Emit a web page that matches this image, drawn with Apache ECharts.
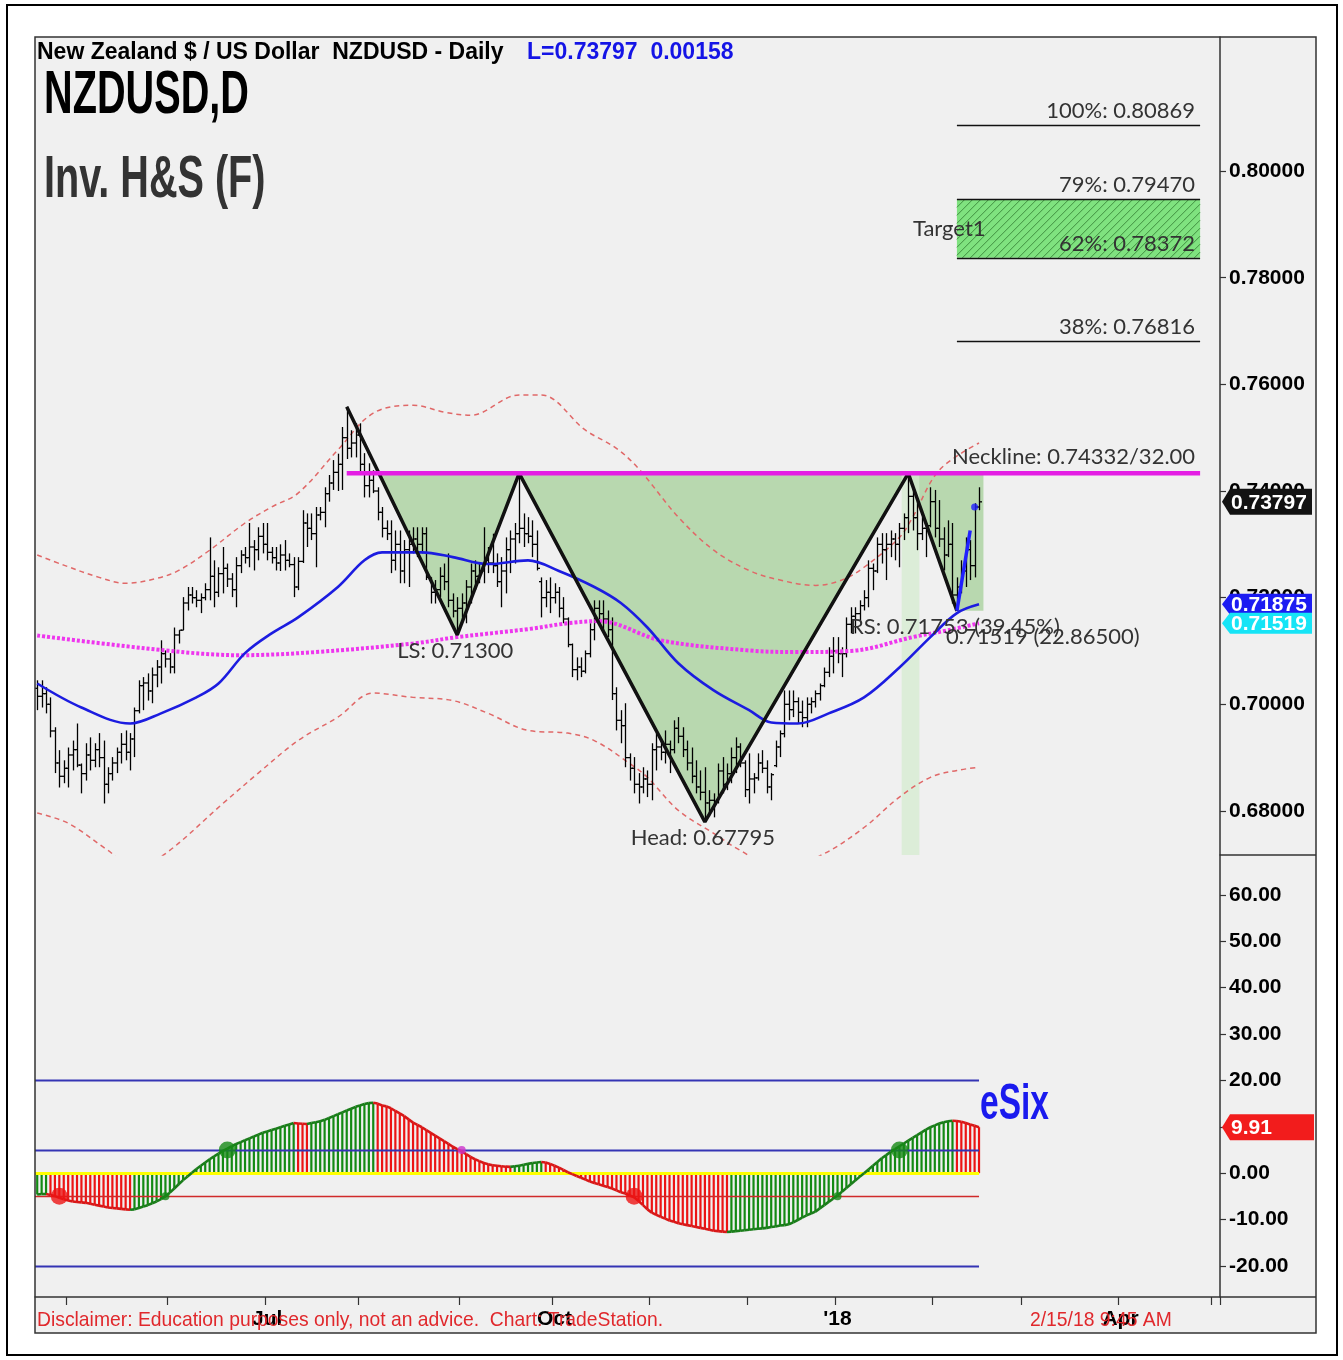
<!DOCTYPE html>
<html>
<head>
<meta charset="utf-8">
<title>NZDUSD Daily - Inv. H&amp;S</title>
<script src="https://cdn.jsdelivr.net/npm/echarts@6.0.0/dist/echarts.min.js"></script>
<style>
  html, body { margin: 0; padding: 0; background: #fff; }
  #chart { width: 1343px; height: 1360px; }
</style>
</head>
<body>
<div id="chart"></div>
<script>
// ---- calendar: weekdays, Christmas / New Year skipped ----
const firstDay = '2017-04-20';
const axisLastDay = '2018-05-02';
const holidays = ['2017-12-25', '2018-01-01'];

// ---- daily bars [open, high, low, close], 2017-04-20 .. 2018-02-15 ----
const bars = [
  [.7030,.7045,.6989,.7015],[.7015,.7045,.6994,.7020],[.7020,.7032,.6983,.7000],[.7000,.7013,.6938,.6950],[.6950,.6957,.6871,.6890],
  [.6890,.6914,.6844,.6865],[.6865,.6895,.6852,.6880],[.6880,.6919,.6844,.6905],[.6905,.6932,.6876,.6915],[.6915,.6964,.6882,.6886],
  [.6886,.6889,.6833,.6870],[.6870,.6927,.6857,.6905],[.6905,.6938,.6876,.6895],[.6895,.6927,.6882,.6915],[.6915,.6946,.6882,.6900],
  [.6900,.6932,.6814,.6850],[.6850,.6882,.6833,.6870],[.6870,.6901,.6857,.6890],[.6890,.6919,.6871,.6910],[.6910,.6946,.6889,.6925],
  [.6925,.6951,.6895,.6910],[.6910,.6946,.6876,.6935],[.6935,.6994,.6901,.6988],[.6988,.7045,.6983,.7035],[.7035,.7051,.6989,.7040],
  [.7040,.7058,.7007,.7025],[.7025,.7069,.7002,.7055],[.7055,.7083,.7032,.7070],[.7070,.7120,.7039,.7095],[.7095,.7101,.7069,.7085],
  [.7085,.7096,.7058,.7070],[.7070,.7144,.7058,.7130],[.7130,.7139,.7114,.7139],[.7139,.7201,.7139,.7190],[.7190,.7220,.7176,.7205],
  [.7205,.7220,.7189,.7200],[.7200,.7214,.7182,.7195],[.7195,.7208,.7171,.7200],[.7200,.7227,.7195,.7215],[.7215,.7313,.7195,.7240],
  [.7240,.7270,.7182,.7210],[.7210,.7257,.7201,.7245],[.7245,.7295,.7208,.7255],[.7255,.7264,.7220,.7235],[.7235,.7246,.7201,.7215],
  [.7215,.7276,.7182,.7260],[.7260,.7289,.7246,.7280],[.7280,.7295,.7264,.7275],[.7275,.7340,.7257,.7295],[.7295,.7308,.7251,.7290],
  [.7290,.7332,.7270,.7315],[.7315,.7340,.7283,.7300],[.7300,.7340,.7270,.7285],[.7285,.7295,.7264,.7275],[.7275,.7295,.7251,.7265],
  [.7265,.7300,.7250,.7280],[.7280,.7308,.7251,.7270],[.7270,.7283,.7257,.7262],[.7262,.7276,.7201,.7220],[.7220,.7276,.7214,.7268],
  [.7268,.7364,.7265,.7340],[.7340,.7358,.7295,.7330],[.7330,.7358,.7308,.7320],[.7320,.7370,.7257,.7355],[.7355,.7370,.7345,.7360],
  [.7360,.7407,.7332,.7395],[.7395,.7430,.7380,.7415],[.7415,.7458,.7402,.7435],[.7435,.7470,.7400,.7450],[.7450,.7520,.7402,.7500],
  [.7500,.7558,.7460,.7480],[.7480,.7514,.7463,.7490],[.7490,.7527,.7463,.7505],[.7505,.7527,.7433,.7450],[.7450,.7471,.7388,.7410],
  [.7410,.7452,.7388,.7420],[.7420,.7439,.7396,.7400],[.7400,.7407,.7345,.7360],[.7360,.7370,.7313,.7330],[.7330,.7345,.7308,.7320],
  [.7320,.7345,.7246,.7270],[.7270,.7326,.7251,.7300],[.7300,.7326,.7227,.7250],[.7250,.7308,.7227,.7290],[.7290,.7326,.7220,.7300],
  [.7300,.7332,.7283,.7310],[.7310,.7332,.7276,.7300],[.7300,.7332,.7283,.7320],[.7320,.7332,.7233,.7238],[.7238,.7238,.7189,.7210],
  [.7210,.7233,.7189,.7215],[.7215,.7257,.7201,.7240],[.7240,.7264,.7214,.7230],[.7230,.7283,.7182,.7195],[.7195,.7208,.7163,.7175],
  [.7175,.7201,.7130,.7180],[.7180,.7208,.7158,.7190],[.7190,.7233,.7152,.7220],[.7220,.7264,.7189,.7250],[.7250,.7270,.7214,.7240],
  [.7240,.7264,.7227,.7250],[.7250,.7332,.7227,.7270],[.7270,.7295,.7246,.7265],[.7265,.7320,.7246,.7260],[.7260,.7283,.7220,.7230],
  [.7230,.7276,.7182,.7250],[.7250,.7313,.7208,.7290],[.7290,.7326,.7246,.7310],[.7310,.7340,.7264,.7320],[.7320,.7434,.7302,.7330],
  [.7330,.7358,.7295,.7320],[.7320,.7351,.7302,.7315],[.7315,.7345,.7276,.7300],[.7300,.7326,.7251,.7255],[.7230,.7238,.7163,.7200],
  [.7200,.7233,.7182,.7210],[.7210,.7238,.7171,.7200],[.7200,.7227,.7189,.7210],[.7210,.7220,.7163,.7180],[.7180,.7201,.7152,.7160],
  [.7160,.7163,.7107,.7112],[.7112,.7114,.7051,.7065],[.7065,.7088,.7045,.7070],[.7070,.7088,.7051,.7062],[.7062,.7101,.7058,.7095],
  [.7095,.7152,.7088,.7140],[.7140,.7195,.7120,.7180],[.7180,.7195,.7152,.7170],[.7170,.7195,.7139,.7160],[.7160,.7176,.7126,.7140],
  [.7140,.7163,.7008,.7020],[.7020,.7032,.6951,.6970],[.6970,.6989,.6927,.6960],[.6960,.7002,.6882,.6900],[.6900,.6908,.6857,.6880],
  [.6880,.6901,.6833,.6850],[.6850,.6871,.6814,.6845],[.6845,.6882,.6833,.6860],[.6860,.6876,.6826,.6850],[.6850,.6927,.6820,.6915],
  [.6915,.6946,.6876,.6920],[.6920,.6932,.6895,.6910],[.6910,.6951,.6889,.6925],[.6925,.6932,.6871,.6915],[.6915,.6970,.6908,.6955],
  [.6955,.6976,.6927,.6940],[.6940,.6957,.6901,.6915],[.6915,.6932,.6876,.6890],[.6890,.6919,.6852,.6865],[.6865,.6895,.6833,.6845],
  [.6845,.6876,.6820,.6835],[.6835,.6882,.6780,.6815],[.6815,.6839,.6790,.6820],[.6820,.6833,.6788,.6818],[.6818,.6889,.6814,.6875],
  [.6875,.6901,.6833,.6850],[.6850,.6889,.6839,.6870],[.6870,.6919,.6852,.6900],[.6900,.6938,.6871,.6920],[.6920,.6927,.6882,.6890],
  [.6890,.6895,.6826,.6840],[.6840,.6908,.6814,.6860],[.6860,.6871,.6833,.6862],[.6862,.6908,.6857,.6890],[.6890,.6914,.6871,.6880],
  [.6880,.6895,.6833,.6845],[.6845,.6871,.6820,.6868],[.6885,.6932,.6882,.6920],[.6920,.6951,.6901,.6945],[.6945,.7026,.6938,.7000],
  [.7000,.7026,.6970,.6990],[.6990,.7026,.6976,.7005],[.7005,.7013,.6964,.6985],[.6985,.7007,.6957,.6975],[.6975,.7013,.6957,.7000],
  [.7000,.7013,.6983,.7005],[.7005,.7026,.6994,.7020],[.7020,.7039,.7007,.7035],[.7035,.7069,.7032,.7060],[.7060,.7107,.7051,.7090],
  [.7090,.7126,.7058,.7100],[.7100,.7126,.7077,.7095],[.7095,.7107,.7051,.7095],[.7095,.7163,.7088,.7150],[.7150,.7182,.7133,.7165],
  [.7165,.7182,.7133,.7170],[.7170,.7195,.7158,.7185],[.7185,.7214,.7176,.7200],[.7200,.7270,.7182,.7255],[.7255,.7264,.7214,.7250],
  [.7250,.7313,.7246,.7300],[.7300,.7321,.7264,.7290],[.7290,.7321,.7233,.7300],[.7300,.7326,.7276,.7310],[.7310,.7321,.7270,.7300],
  [.7300,.7340,.7257,.7330],[.7330,.7358,.7308,.7350],[.7350,.7426,.7321,.7390],[.7390,.7407,.7326,.7350],[.7350,.7383,.7289,.7320],
  [.7320,.7351,.7308,.7330],[.7330,.7340,.7276,.7335],[.7335,.7407,.7332,.7380],[.7380,.7402,.7313,.7330],[.7330,.7383,.7295,.7310],
  [.7310,.7332,.7251,.7280],[.7280,.7345,.7276,.7300],[.7300,.7340,.7189,.7205],[.7205,.7238,.7175,.7220],[.7220,.7270,.7208,.7250],
  [.7250,.7313,.7220,.7290],[.7290,.7308,.7233,.7260],[.7260,.7377,.7238,.7370],[.7370,.7407,.7364,.73797]
];

// ---- eSix oscillator, one value per bar ----
const esix = [
  -4.6,-4.5,-4.5,-4.7,-4.95,-5.3,-5.6,-5.9,-6.1,-6.2,
  -6.3,-6.4,-6.6,-6.8,-7.0,-7.2,-7.4,-7.5,-7.6,-7.7,
  -7.8,-7.9,-7.8,-7.5,-7.2,-6.9,-6.5,-6.1,-5.6,-5.0,
  -4.2,-3.3,-2.4,-1.5,-0.7,0.1,0.9,1.6,2.3,3.0,
  3.6,4.2,4.8,5.3,5.8,6.3,6.7,7.1,7.5,7.9,
  8.3,8.7,9.0,9.3,9.6,9.9,10.2,10.5,10.8,10.7,
  10.65,10.6,10.8,11.0,11.2,11.5,11.9,12.3,12.7,13.1,
  13.5,13.9,14.3,14.6,14.9,15.1,15.2,15.0,14.6,14.4,
  14.0,13.4,12.9,12.3,11.6,10.9,10.4,9.9,9.3,8.7,
  8.1,7.5,6.9,6.3,5.7,5.2,4.7,4.1,3.5,3.0,
  2.6,2.2,1.9,1.7,1.6,1.5,1.4,1.35,1.5,1.6,
  1.8,2.0,2.2,2.3,2.4,2.3,2.0,1.6,1.2,0.7,
  0.2,-0.2,-0.6,-1.0,-1.4,-1.8,-2.1,-2.4,-2.7,-3.0,
  -3.3,-3.7,-4.1,-4.4,-4.8,-5.2,-6.0,-6.9,-7.8,-8.5,
  -9.0,-9.4,-9.8,-10.2,-10.5,-10.8,-11.0,-11.2,-11.4,-11.6,
  -11.8,-12.0,-12.2,-12.4,-12.5,-12.6,-12.7,-12.6,-12.5,-12.4,
  -12.3,-12.2,-12.1,-12.0,-11.9,-11.8,-11.6,-11.5,-11.3,-11.2,
  -11.0,-10.6,-10.1,-9.6,-9.1,-8.7,-8.3,-7.6,-6.9,-6.2,
  -5.5,-4.8,-4.0,-3.2,-2.4,-1.6,-0.8,0.0,0.8,1.6,
  2.4,3.2,3.9,4.6,5.2,5.8,6.4,7.0,7.6,8.2,
  8.8,9.4,9.9,10.3,10.7,11.0,11.2,11.3,11.25,11.1,
  10.8,10.5,10.2,9.91
];

// ---- averages and bands, read at sample dates ----
const ma50 = [
  ['2017-04-20',.7039],['2017-05-04',.6994],['2017-05-19',.6964],['2017-05-30',.6983],['2017-06-09',.7013],
  ['2017-06-16',.7039],['2017-06-26',.7096],['2017-07-04',.7133],['2017-07-12',.7163],['2017-07-25',.7220],
  ['2017-08-02',.7270],['2017-08-08',.7285],['2017-08-21',.7285],['2017-08-30',.7276],['2017-09-11',.7263],
  ['2017-09-22',.7270],['2017-10-03',.7250],['2017-10-13',.7220],['2017-10-23',.7190],['2017-10-31',.7144],
  ['2017-11-09',.7077],['2017-11-21',.7026],['2017-12-01',.6989],['2017-12-08',.6966],['2017-12-18',.6964],
  ['2017-12-28',.6983],['2018-01-10',.7013],['2018-01-22',.7069],['2018-01-31',.7126],['2018-02-08',.7171],
  ['2018-02-15',.71875]
];
const ma200 = [
  ['2017-04-20',.7129],['2017-05-31',.7101],['2017-06-23',.7092],['2017-07-18',.7098],['2017-08-17',.7114],
  ['2017-08-31',.7126],['2017-09-22',.7141],['2017-10-05',.7152],['2017-10-16',.7156],['2017-11-03',.7120],
  ['2017-12-01',.7101],['2017-12-18',.7098],['2018-01-05',.7100],['2018-01-25',.7126],['2018-02-06',.7139],
  ['2018-02-15',.71519]
];
const bandUpper = [
  ['2017-04-20',.7280],['2017-04-28',.7261],['2017-05-10',.7238],['2017-05-18',.7227],['2017-05-29',.7236],
  ['2017-06-05',.7251],['2017-06-14',.7289],['2017-06-26',.7340],['2017-07-04',.7370],['2017-07-12',.7396],
  ['2017-07-25',.7477],['2017-08-04',.7546],['2017-08-17',.7561],['2017-08-28',.7548],['2017-09-05',.7542],
  ['2017-09-20',.7580],['2017-09-27',.7580],['2017-10-11',.7514],['2017-10-20',.7480],['2017-10-27',.7442],
  ['2017-11-09',.7351],['2017-11-21',.7289],['2017-12-01',.7251],['2017-12-12',.7233],['2017-12-22',.7223],
  ['2018-01-03',.7233],['2018-01-10',.7257],['2018-01-22',.7313],['2018-01-25',.7351],['2018-02-02',.7439],
  ['2018-02-15',.7490]
];
const bandLower = [
  ['2017-04-20',.6796],['2017-05-01',.6777],['2017-05-12',.6726],['2017-05-22',.6692],['2017-05-31',.6720],
  ['2017-06-19',.6814],['2017-06-29',.6871],['2017-07-12',.6932],['2017-07-25',.6976],['2017-08-04',.7021],
  ['2017-08-17',.7013],['2017-08-30',.7007],['2017-09-11',.6983],['2017-09-22',.6951],['2017-10-05',.6946],
  ['2017-10-13',.6932],['2017-10-25',.6889],['2017-10-31',.6863],['2017-11-09',.6801],['2017-11-21',.6758],
  ['2017-11-29',.6726],['2017-12-12',.6690],['2017-12-27',.6720],['2018-01-10',.6769],['2018-01-22',.6826],
  ['2018-01-31',.6863],['2018-02-08',.6876],['2018-02-15',.6882]
];

// ---- inverse head & shoulders ----
const hsDates = ['2017-07-27','2017-08-31','2017-09-20','2017-11-17','2018-01-24','2018-02-08'];
const hsPrices = [0.7558, 0.7130, 0.74332, 0.67795, 0.74332, 0.71753];
const hsLabels = ['', 'LS: 0.71300', '', 'Head: 0.67795', '', 'RS: 0.71753 (39.45%)'];
const neckline = 0.74332;
const necklineLabel = 'Neckline: 0.74332/32.00';
const necklineSpan = ['2017-07-27', '2018-04-26'];
const shadeEnd = '2018-02-16';
const highlightDays = ['2018-01-23', '2018-01-26'];
const projDates = ['2018-02-08', '2018-02-13'];
const projPrices = [0.71753, 0.7326];
const lastMark = ['2018-02-14', 0.7370];
const ma200Label = '0.71519 (22.86500)';

// ---- targets ----
const fibNames = ['100%', '79%', '62%', '38%'];
const fibLevels = [0.80869, 0.79470, 0.78372, 0.76816];
const fibSpan = ['2018-02-08', '2018-04-26'];
const targetZone = [0.79470, 0.78372];

// ---- axes ----
const priceRange = [0.67174, 0.82514];
const priceTicks = [0.68, 0.70, 0.72, 0.74, 0.76, 0.78, 0.80];
const oscRange = [-26.7, 68.6];
const oscTicks = [-20, -10, 0, 10, 20, 30, 40, 50, 60];
const oscLevels = [20, 5, 0, -5, -20];

// ---- right-axis tags [value, text] ----
const priceTags = [[0.73797, '0.73797'], [0.71875, '0.71875'], [0.71519, '0.71519']];
const oscTags = [[9.91, '9.91']];

// ---- eSix signal dots ----
const buyDots = [['2017-06-20', 5], ['2018-01-22', 5]];
const sellDots = [['2017-04-27', -5], ['2017-10-26', -5]];
const exitUpDots = [['2017-05-31', -5], ['2018-01-02', -5]];
const exitDownDots = [['2017-09-01', 5]];

// ------------------------------------------------------------
function tradingDays(from, to, skip) {
  const out = [];
  const d = new Date(from + 'T00:00:00Z');
  const end = new Date(to + 'T00:00:00Z');
  while (d <= end) {
    const s = d.toISOString().slice(0, 10);
    const wd = d.getUTCDay();
    if (wd !== 0 && wd !== 6 && !skip.includes(s)) out.push(s);
    d.setUTCDate(d.getUTCDate() + 1);
  }
  return out;
}
const days = tradingDays(firstDay, axisLastDay, holidays);
const idx = d => days.indexOf(d);

const SANS = '"Liberation Sans", Arial, sans-serif';
const NOTE_FONT = 'Lato, "Open Sans", sans-serif';
const GREEN = '#138a13', RED = '#ec1414';

const isMonthStart = i => i > 0 && days[i].slice(0, 7) !== days[i - 1].slice(0, 7);
const QUARTER = { '01': null, '04': 'Apr', '07': 'Jul', '10': 'Oct' };
const isQuarterStart = i => isMonthStart(i) && days[i].slice(5, 7) in QUARTER;

function txt(text, x, y, font, fill, align, vAlign) {
  return { type: 'text', style: { text, x, y, font, fill,
    align: align || 'left', textAlign: align || 'left',
    verticalAlign: vAlign || 'middle', textVerticalAlign: vAlign || 'middle' } };
}
// page text squeezed horizontally (condensed look)
function pageText(text, x, y, font, fill, sx) {
  const t = txt(text, 0, 0, font, fill);
  return Object.assign(t, { x, y, scaleX: sx || 1, z: 100 });
}

// OHLC bars
function renderOHLC(params, api) {
  const i = api.value(0);
  const top = api.coord([i, api.value(2)]);
  const bot = api.coord([i, api.value(3)]);
  const yo = api.coord([i, api.value(1)])[1];
  const yc = api.coord([i, api.value(4)])[1];
  const x = Math.round(top[0]) + 0.5;
  const st = () => ({ stroke: '#000', lineWidth: 1.3 });
  return { type: 'group', children: [
    { type: 'line', shape: { x1: x, y1: top[1], x2: x, y2: bot[1] }, style: st() },
    { type: 'line', shape: { x1: x - 2.5, y1: yo, x2: x, y2: yo }, style: st() },
    { type: 'line', shape: { x1: x, y1: yc, x2: x + 2.5, y2: yc }, style: st() }
  ] };
}

// shaded pattern area + highlight column
function renderShade(params, api) {
  const cs = params.coordSys;
  const pts = hsDates.map((d, k) => api.coord([idx(d), hsPrices[k]]));
  const yN = api.coord([0, neckline])[1];
  const p0 = pts[0], p1 = pts[1];
  const xCross = p0[0] + (yN - p0[1]) / (p1[1] - p0[1]) * (p1[0] - p0[0]);
  const xEnd = api.coord([idx(shadeEnd), neckline])[0];
  const rs = pts[pts.length - 1];
  const poly = [[xCross, yN]].concat(pts.slice(1), [[xEnd, rs[1]], [xEnd, yN]]);
  const band = api.size([1, 0])[0];
  const hx0 = api.coord([idx(highlightDays[0]), neckline])[0] - band / 2;
  const hx1 = api.coord([idx(highlightDays[1]), neckline])[0] + band / 2;
  return { type: 'group', children: [
    { type: 'polygon', shape: { points: poly }, style: { fill: '#b8d8af' } },
    { type: 'rect', shape: { x: hx0, y: yN, width: hx1 - hx0, height: cs.y + cs.height - yN },
      style: { fill: 'rgba(212,236,206,0.72)' } }
  ] };
}

// target zone with hatching
function renderTarget(params, api) {
  const a = api.coord([idx(fibSpan[0]), targetZone[0]]);
  const b = api.coord([idx(fibSpan[1]), targetZone[1]]);
  const x0 = a[0], x1 = b[0], y0 = a[1], y1 = b[1];
  const w = x1 - x0, h = y1 - y0;
  const children = [{ type: 'rect', shape: { x: x0, y: y0, width: w, height: h }, style: { fill: '#7fe27f' } }];
  for (let k = -h; k < w; k += 8) {
    const xa = Math.max(x0, x0 + k), xb = Math.min(x1, x0 + k + h);
    if (xb <= xa) continue;
    children.push({ type: 'line',
      shape: { x1: xa, y1: y1 - (xa - x0 - k), x2: xb, y2: y1 - (xb - x0 - k) },
      style: { stroke: '#3f8f3f', lineWidth: 1 } });
  }
  children.push(txt('Target1', x0 - 44, (y0 + y1) / 2, '22px ' + NOTE_FONT, '#333'));
  return { type: 'group', children };
}

// fib lines with labels
function renderFib(params, api) {
  const k = params.dataIndex;
  const a = api.coord([idx(fibSpan[0]), fibLevels[k]]);
  const b = api.coord([idx(fibSpan[1]), fibLevels[k]]);
  const y = Math.round(a[1]) + 0.5;
  return { type: 'group', children: [
    { type: 'line', shape: { x1: a[0], y1: y, x2: b[0], y2: y }, style: { stroke: '#111', lineWidth: 1.6 } },
    txt(fibNames[k] + ': ' + fibLevels[k].toFixed(5), b[0] - 5, y - 4, '22px ' + NOTE_FONT, '#333', 'right', 'bottom')
  ] };
}

// pattern notes
function renderNotes(params, api) {
  const font = '22px ' + NOTE_FONT;
  const children = [];
  hsLabels.forEach((t, k) => {
    if (!t) return;
    const p = api.coord([idx(hsDates[k]), hsPrices[k]]);
    children.push(txt(t, p[0] - 2, p[1] + 16, font, '#333', 'center'));
  });
  const ne = api.coord([idx(necklineSpan[1]), neckline]);
  children.push(txt(necklineLabel, ne[0] - 5, ne[1] - 5, font, '#333', 'right', 'bottom'));
  const last = ma200[ma200.length - 1];
  const m = api.coord([idx(last[0]), last[1]]);
  children.push(txt(ma200Label, m[0] - 33, m[1] + 14, font, '#333'));
  return { type: 'group', children };
}

// value tags on the right axis
function tagRenderer(tags, looks) {
  return function (params, api) {
    const cs = params.coordSys;
    const [v, label] = tags[params.dataIndex];
    const y = api.coord([0, v])[1];
    const x0 = cs.x + cs.width + 2;
    const c = looks[params.dataIndex];
    const hh = c.half;
    return { type: 'group', children: [
      { type: 'polygon', shape: { points: [[x0, y], [x0 + 8, y - hh], [x0 + c.w, y - hh], [x0 + c.w, y + hh], [x0 + 8, y + hh]] },
        style: { fill: c.bg } },
      txt(label, x0 + 9, y + 1, 'bold 21px ' + SANS, '#fff')
    ] };
  };
}

// eSix outline, green while rising, red while falling
function renderOutline(params, api) {
  const i = api.value(0);
  if (i === 0) return null;
  const a = api.coord([i - 1, esix[i - 1]]);
  const b = api.coord([i, esix[i]]);
  return { type: 'line', shape: { x1: a[0], y1: a[1], x2: b[0], y2: b[1] },
    style: { stroke: esix[i] >= esix[i - 1] ? '#1a7d1a' : '#d81818', lineWidth: 2.6 } };
}

function renderLevel(params, api) {
  const v = oscLevels[params.dataIndex];
  const band = api.size([1, 0])[0];
  const a = api.coord([0, v]);
  const b = api.coord([bars.length - 1, v]);
  const y = Math.round(a[1]) + 0.5;
  let stroke = '#3434b4', lw = 1.8;
  if (v === 0) { stroke = '#ffff00'; lw = 3; }
  else if (v === -5) { stroke = '#d02a2a'; lw = 1.3; }
  return { type: 'line', shape: { x1: a[0] - band / 2, y1: y, x2: b[0], y2: y }, style: { stroke, lineWidth: lw } };
}

const yAxisBase = (grid, range, ticks, digits) => ({
  type: 'value', gridIndex: grid, position: 'right', min: range[0], max: range[1],
  axisLine: { show: true, lineStyle: { color: '#333', width: 1.5 } },
  axisTick: { show: true, length: 6, customValues: ticks, lineStyle: { color: '#333', width: 1.2 } },
  axisLabel: { customValues: ticks, formatter: v => v.toFixed(digits), margin: 9, color: '#000',
    fontWeight: 'bold', fontSize: 21, fontFamily: SANS },
  splitLine: { show: false }
});

const chart = echarts.init(document.getElementById('chart'));
chart.setOption({
  animation: false,
  backgroundColor: '#fff',
  grid: [
    { left: 35, top: 37, width: 1185, height: 818, outerBoundsMode: 'none' },
    { left: 35, top: 855, width: 1185, height: 442, outerBoundsMode: 'none' }
  ],
  xAxis: [
    { type: 'category', gridIndex: 0, data: days, boundaryGap: true,
      axisLine: { show: false, onZero: false }, axisTick: { show: false }, axisLabel: { show: false }, splitLine: { show: false } },
    { type: 'category', gridIndex: 1, data: days, boundaryGap: true, position: 'bottom',
      axisLine: { show: true, onZero: false, lineStyle: { color: '#333', width: 1.5 } },
      axisTick: { show: true, interval: i => isMonthStart(i), length: 8, lineStyle: { color: '#333', width: 1.2 } },
      axisLabel: { interval: i => isQuarterStart(i), margin: 12, color: '#000', fontWeight: 'bold', fontSize: 21,
        fontFamily: SANS,
        formatter: v => { const m = v.slice(5, 7); return m === '01' ? "'" + v.slice(2, 4) : QUARTER[m]; } },
      splitLine: { show: false } }
  ],
  yAxis: [
    yAxisBase(0, priceRange, priceTicks, 5),
    yAxisBase(1, oscRange, oscTicks, 2)
  ],
  graphic: [
    { type: 'rect', z: -100, shape: { x: 35, y: 37, width: 1281, height: 1296 }, style: { fill: '#f0f0f0' } },
    { type: 'rect', z: 100, shape: { x: 35, y: 37, width: 1281, height: 1296 }, style: { fill: 'none', stroke: '#333', lineWidth: 1.5 } },
    { type: 'rect', z: 100, shape: { x: 7, y: 5, width: 1330, height: 1350 }, style: { fill: 'none', stroke: '#000', lineWidth: 2 } },
    { type: 'line', z: 100, shape: { x1: 1220, y1: 855, x2: 1316, y2: 855 }, style: { stroke: '#333', lineWidth: 1.5 } },
    { type: 'line', z: 100, shape: { x1: 1220, y1: 1297, x2: 1316, y2: 1297 }, style: { stroke: '#333', lineWidth: 1.5 } },
    pageText('New Zealand $ / US Dollar  NZDUSD - Daily', 37, 53, 'bold 23px ' + SANS, '#000', 1.0),
    pageText('L=0.73797  0.00158', 527, 53, 'bold 23px ' + SANS, '#1414e6', 1.0),
    pageText('NZDUSD,D', 44, 96, 'bold 62px ' + SANS, '#000', 0.64),
    pageText('Inv. H&S (F)', 44, 180, 'bold 60px ' + SANS, '#333', 0.66),
    pageText('eSix', 980, 1105, 'bold 50px ' + SANS, '#1a1aee', 0.67),
    pageText('Disclaimer: Education purposes only, not an advice.  Chart: TradeStation.', 37, 1320, '21px ' + SANS, '#e0282c', 0.92),
    pageText('2/15/18 9:45 AM', 1030, 1320, '21px ' + SANS, '#e0282c', 0.92)
  ],
  series: [
    { type: 'custom', name: 'shade', xAxisIndex: 0, yAxisIndex: 0, z: 1, silent: true, clip: true,
      renderItem: renderShade, data: [[0]] },
    { type: 'custom', name: 'target', xAxisIndex: 0, yAxisIndex: 0, z: 2, silent: true,
      renderItem: renderTarget, data: [[0]] },
    { type: 'custom', name: 'fib', xAxisIndex: 0, yAxisIndex: 0, z: 3, silent: true,
      renderItem: renderFib, data: fibLevels.map((v, k) => [k, v]) },
    { type: 'line', name: 'upper', xAxisIndex: 0, yAxisIndex: 0, z: 3, data: bandUpper, smooth: 0.35,
      symbol: 'none', lineStyle: { color: '#e06868', width: 1.5, type: [5, 4] } },
    { type: 'line', name: 'lower', xAxisIndex: 0, yAxisIndex: 0, z: 3, data: bandLower, smooth: 0.35,
      symbol: 'none', lineStyle: { color: '#e06868', width: 1.5, type: [5, 4] } },
    { type: 'custom', name: 'NZDUSD', xAxisIndex: 0, yAxisIndex: 0, z: 4, clip: true, renderItem: renderOHLC,
      encode: { x: 0, y: [1, 2, 3, 4] }, data: bars.map((b, i) => [i].concat(b)) },
    { type: 'line', name: 'ma200', xAxisIndex: 0, yAxisIndex: 0, z: 5, data: ma200, smooth: 0.35,
      symbol: 'none', lineStyle: { color: '#ee36ee', width: 4, type: [3, 2] } },
    { type: 'line', name: 'ma50', xAxisIndex: 0, yAxisIndex: 0, z: 5, data: ma50, smooth: 0.35,
      symbol: 'none', lineStyle: { color: '#1c1ce0', width: 2.6 } },
    { type: 'line', name: 'pattern', xAxisIndex: 0, yAxisIndex: 0, z: 7,
      data: hsDates.map((d, k) => [d, hsPrices[k]]), symbol: 'none', lineStyle: { color: '#111', width: 3.5 } },
    { type: 'line', name: 'projection', xAxisIndex: 0, yAxisIndex: 0, z: 7,
      data: projDates.map((d, k) => [d, projPrices[k]]), symbol: 'none', lineStyle: { color: '#2020ff', width: 3.5 } },
    { type: 'scatter', name: 'last', xAxisIndex: 0, yAxisIndex: 0, z: 7, data: [lastMark], symbolSize: 7,
      itemStyle: { color: '#2020ff' } },
    { type: 'line', name: 'neckline', xAxisIndex: 0, yAxisIndex: 0, z: 8,
      data: necklineSpan.map(d => [d, neckline]), symbol: 'none', lineStyle: { color: '#e41ee4', width: 4.5 } },
    { type: 'custom', name: 'notes', xAxisIndex: 0, yAxisIndex: 0, z: 9, silent: true,
      renderItem: renderNotes, data: [[0]] },
    { type: 'custom', name: 'priceTags', xAxisIndex: 0, yAxisIndex: 0, z: 20, silent: true, clip: false,
      renderItem: tagRenderer(priceTags, [
        { bg: '#121212', half: 13, w: 90 }, { bg: '#1c1cf2', half: 10.5, w: 90 }, { bg: '#16e4f6', half: 10.5, w: 90 }
      ]), data: priceTags.map((t, k) => [k, t[0]]) },

    // eSix pane
    { type: 'bar', name: 'eSix', xAxisIndex: 1, yAxisIndex: 1, z: 2, data: esix, barWidth: 2.2,
      itemStyle: { color: p => (p.dataIndex === 0 || esix[p.dataIndex] >= esix[p.dataIndex - 1]) ? GREEN : RED } },
    { type: 'custom', name: 'levels', xAxisIndex: 1, yAxisIndex: 1, z: 3, silent: true,
      renderItem: renderLevel, data: oscLevels.map((v, k) => [k, v]) },
    { type: 'custom', name: 'outline', xAxisIndex: 1, yAxisIndex: 1, z: 4, silent: true,
      renderItem: renderOutline, data: esix.map((v, i) => [i, v]) },
    { type: 'scatter', xAxisIndex: 1, yAxisIndex: 1, z: 5, data: buyDots, symbolSize: 17, itemStyle: { color: '#168a16' } },
    { type: 'scatter', xAxisIndex: 1, yAxisIndex: 1, z: 5, data: sellDots, symbolSize: 17, itemStyle: { color: '#ee1414' } },
    { type: 'scatter', xAxisIndex: 1, yAxisIndex: 1, z: 5, data: exitUpDots, symbolSize: 8, itemStyle: { color: '#168a16' } },
    { type: 'scatter', xAxisIndex: 1, yAxisIndex: 1, z: 5, data: exitDownDots, symbolSize: 8, itemStyle: { color: '#cc33cc' } },
    { type: 'custom', name: 'oscTags', xAxisIndex: 1, yAxisIndex: 1, z: 20, silent: true, clip: false,
      renderItem: tagRenderer(oscTags, [{ bg: '#f21c1c', half: 13, w: 92 }]), data: oscTags.map((t, k) => [k, t[0]]) }
  ]
});
</script>
</body>
</html>
